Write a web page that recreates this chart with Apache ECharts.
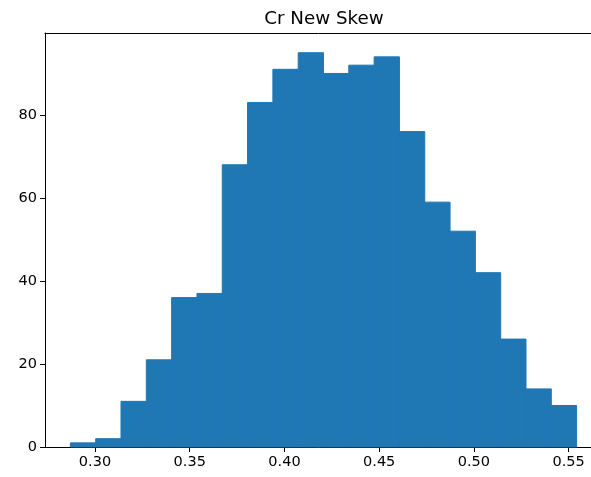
<!DOCTYPE html>
<html>
<head>
<meta charset="utf-8">
<script src="https://cdn.jsdelivr.net/npm/echarts@6/dist/echarts.min.js"></script>
<style>
html,body{margin:0;padding:0;background:#fff;}
#chart{width:591px;height:477px;}
</style>
</head>
<body>
<div id="chart"></div>
<script>
const chartTitle = "Cr New Skew";
const binEdges = [0.2870, 0.30036, 0.31372, 0.32708, 0.34044, 0.3538, 0.36716, 0.38052, 0.39388, 0.40724, 0.4206,
                  0.43396, 0.44732, 0.46068, 0.47404, 0.4874, 0.50076, 0.51412, 0.52748, 0.54084, 0.5542];
const counts = [1, 2, 11, 21, 36, 37, 68, 83, 91, 95, 90, 92, 94, 76, 59, 52, 42, 26, 14, 10];
const xTicks = [0.30, 0.35, 0.40, 0.45, 0.50, 0.55];
const yTicks = [0, 20, 40, 60, 80];

const xMin = 0.2736, xMax = 0.5676;
const yMax = 99.75;

const data = counts.map((c, i) => [binEdges[i], binEdges[i + 1], c]);

const FONT = 'DejaVu Sans';
const chart = echarts.init(document.getElementById('chart'), null, {renderer: 'canvas'});
const axisLineStyle = {color: '#000', width: 1};
chart.setOption({
  animation: false,
  backgroundColor: '#fff',
  title: {
    text: chartTitle,
    left: 319,
    textAlign: 'center',
    top: 5,
    textStyle: {fontFamily: FONT, fontSize: 18.3, fontWeight: 'normal', color: '#000'}
  },
  grid: {left: 45, top: 33, width: 557, height: 414, containLabel: false, outerBoundsMode: 'none'},
  xAxis: [{
    type: 'value', min: xMin, max: xMax, position: 'bottom',
    splitLine: {show: false},
    axisLine: {show: true, onZero: false, lineStyle: axisLineStyle},
    axisTick: {show: true, length: 5, lineStyle: axisLineStyle, customValues: xTicks},
    axisLabel: {customValues: xTicks, margin: 8, color: '#000', fontFamily: FONT, fontSize: 14.5,
      formatter: v => v.toFixed(2)}
  }, {
    type: 'value', min: xMin, max: xMax, position: 'top',
    splitLine: {show: false},
    axisLine: {show: true, onZero: false, lineStyle: axisLineStyle},
    axisTick: {show: false}, axisLabel: {show: false}
  }],
  yAxis: {
    type: 'value', min: 0, max: yMax,
    splitLine: {show: false},
    axisLine: {show: true, onZero: false, lineStyle: axisLineStyle},
    axisTick: {show: true, length: 5, lineStyle: axisLineStyle, customValues: yTicks},
    axisLabel: {customValues: yTicks, margin: 8, color: '#000', fontFamily: FONT, fontSize: 14.5}
  },
  series: [{
    type: 'custom',
    xAxisIndex: 0,
    data: data,
    renderItem: function (params, api) {
      const p0 = api.coord([api.value(0), 0]);
      const p1 = api.coord([api.value(1), api.value(2)]);
      return {
        type: 'rect',
        shape: {x: p0[0], y: p1[1], width: p1[0] - p0[0], height: p0[1] - p1[1]},
        style: {fill: '#1f77b4', stroke: '#1f77b4', lineWidth: 1}
      };
    },
    encode: {x: [0, 1], y: 2}
  }]
});
</script>
</body>
</html>
